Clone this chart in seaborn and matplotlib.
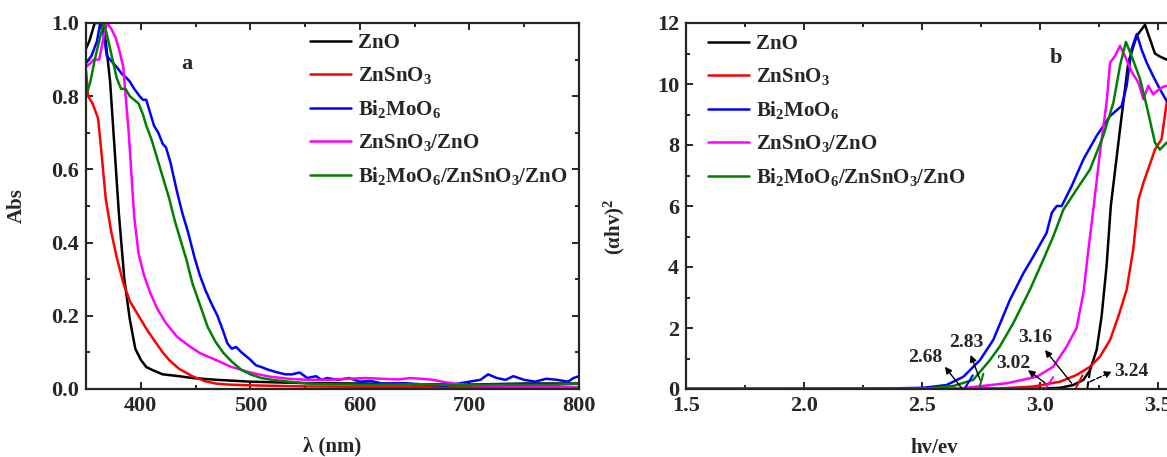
import numpy as np
import pandas as pd
import seaborn as sns
import matplotlib.pyplot as plt
from matplotlib.ticker import MultipleLocator

# ---- panel a: UV-vis absorbance ----
names = ['ZnO', 'ZnSnO$_3$', 'Bi$_2$MoO$_6$', 'ZnSnO$_3$/ZnO', 'Bi$_2$MoO$_6$/ZnSnO$_3$/ZnO']
colors = ['#000000', '#ff0000', '#0000ff', '#ff00ff', '#008000']

lam_zno = [350, 353, 356, 358, 365, 368, 372, 376, 380, 385, 390, 395, 400, 405, 412, 420,
           435, 447, 470, 500, 550, 600, 650, 700, 750, 800]
abs_zno = [0.93, 0.95, 0.98, 1.0, 1.0, 0.95, 0.84, 0.66, 0.48, 0.30, 0.19, 0.11, 0.08, 0.06,
           0.05, 0.04, 0.035, 0.03, 0.025, 0.02, 0.016, 0.015, 0.013, 0.012, 0.015, 0.015]

lam_zs = [350, 352, 356, 361, 364, 368, 373, 378, 384, 390, 398, 405, 412, 420, 426, 435,
          447, 458, 468, 480, 500, 550, 600, 650, 700, 750, 800]
abs_zs = [0.87, 0.80, 0.78, 0.74, 0.65, 0.52, 0.43, 0.36, 0.29, 0.24, 0.20, 0.165, 0.134,
          0.10, 0.079, 0.055, 0.035, 0.022, 0.015, 0.012, 0.01, 0.007, 0.006, 0.006, 0.005,
          0.005, 0.005]

lam_bi = [350, 355, 360, 363, 366, 369, 372, 375, 379, 383, 387, 390, 394, 399, 402, 405,
          408, 412, 416, 420, 423, 427, 433, 438, 443, 449, 454, 459, 465, 470, 475, 479,
          483, 487, 492, 496, 500, 505, 510, 517, 525, 532, 538, 545, 552, 560, 565, 570,
          580, 590, 600, 610, 620, 640, 660, 679, 690, 700, 710, 717, 725, 733, 740, 750,
          760, 770, 780, 790, 795, 800]
abs_bi = [0.89, 0.91, 0.95, 1.0, 0.97, 0.91, 0.90, 0.89, 0.876, 0.86, 0.85, 0.84, 0.82,
          0.80, 0.79, 0.79, 0.76, 0.72, 0.70, 0.67, 0.66, 0.62, 0.54, 0.48, 0.43, 0.36,
          0.31, 0.27, 0.23, 0.20, 0.16, 0.125, 0.11, 0.115, 0.10, 0.09, 0.08, 0.065, 0.06,
          0.052, 0.045, 0.04, 0.04, 0.045, 0.03, 0.035, 0.025, 0.03, 0.025, 0.03, 0.02,
          0.022, 0.015, 0.016, 0.012, 0.009, 0.015, 0.02, 0.025, 0.04, 0.03, 0.025, 0.035,
          0.025, 0.02, 0.028, 0.025, 0.02, 0.03, 0.035]

lam_zz = [350, 354, 357, 362, 366, 369, 373, 377, 380, 384, 389, 394, 398, 403, 409, 415,
          423, 433, 443, 454, 468, 482, 500, 517, 535, 553, 570, 590, 605, 620, 635, 646,
          660, 667, 675, 684, 700, 750, 800]
abs_zz = [0.88, 0.89, 0.90, 0.90, 0.96, 1.0, 0.985, 0.96, 0.93, 0.88, 0.70, 0.47, 0.37,
          0.31, 0.26, 0.22, 0.18, 0.143, 0.12, 0.098, 0.08, 0.061, 0.045, 0.034, 0.028,
          0.025, 0.025, 0.028, 0.03, 0.028, 0.026, 0.03, 0.027, 0.025, 0.02, 0.016, 0.01,
          0.007, 0.005]

lam_c = [350, 354, 358, 362, 366, 369, 372, 375, 378, 382, 386, 390, 394, 398, 402, 405,
         410, 415, 420, 426, 431, 436, 442, 447, 454, 461, 468, 475, 483, 492, 500, 510,
         520, 535, 553, 570, 600, 630, 660, 690, 720, 750, 780, 800]
abs_c = [0.80, 0.84, 0.90, 0.95, 1.0, 0.97, 0.93, 0.89, 0.85, 0.82, 0.82, 0.80, 0.79,
         0.78, 0.75, 0.72, 0.68, 0.63, 0.58, 0.52, 0.46, 0.41, 0.35, 0.29, 0.23, 0.17,
         0.13, 0.10, 0.075, 0.052, 0.04, 0.03, 0.025, 0.02, 0.015, 0.013, 0.012, 0.012,
         0.013, 0.01, 0.012, 0.012, 0.012, 0.015]

# ---- panel b: Tauc plot ----
e_zno = [1.5, 2.5, 3.0, 3.085, 3.141, 3.184, 3.212, 3.24, 3.261, 3.282, 3.30, 3.339,
         3.374, 3.41, 3.445, 3.487, 3.508, 3.537, 3.56]
t_zno = [0, 0, 0.01, 0.04, 0.13, 0.3, 0.62, 1.28, 2.38, 4.02, 6.0, 8.51, 10.7, 11.58,
         11.94, 11.0, 10.9, 10.8, 10.7]

e_zs = [1.5, 2.6, 2.83, 2.972, 3.085, 3.155, 3.212, 3.254, 3.297, 3.332, 3.367, 3.395,
        3.417, 3.438, 3.473, 3.487, 3.515, 3.537, 3.56]
t_zs = [0, 0, 0.02, 0.08, 0.24, 0.46, 0.73, 1.06, 1.61, 2.38, 3.25, 4.57, 6.2, 6.76,
        7.53, 7.85, 8.19, 9.39, 10.0]

e_bi = [1.5, 2.3, 2.506, 2.604, 2.675, 2.746, 2.802, 2.873, 2.93, 2.972, 3.028, 3.05,
        3.071, 3.092, 3.134, 3.184, 3.24, 3.297, 3.346, 3.367, 3.388, 3.41, 3.43, 3.452,
        3.48, 3.508, 3.537, 3.56]
t_bi = [0, 0.01, 0.04, 0.13, 0.40, 0.95, 1.61, 2.93, 3.8, 4.35, 5.12, 5.78, 6.0, 6.0,
        6.65, 7.53, 8.3, 8.95, 9.28, 9.94, 11.14, 11.64, 11.14, 10.7, 10.25, 9.83, 9.44,
        9.3]

e_zz = [1.5, 2.5, 2.675, 2.746, 2.859, 2.986, 3.056, 3.113, 3.155, 3.184, 3.205, 3.226,
        3.254, 3.282, 3.297, 3.318, 3.339, 3.36, 3.388, 3.417, 3.438, 3.459, 3.48, 3.5,
        3.52, 3.537, 3.56]
t_zz = [0, 0.005, 0.03, 0.09, 0.19, 0.40, 0.73, 1.39, 2.0, 3.15, 4.57, 5.88, 7.75, 9.39,
        10.7, 10.92, 11.25, 10.92, 10.4, 10.05, 9.5, 9.94, 9.66, 9.8, 9.9, 9.94, 9.9]

e_c = [1.5, 2.4, 2.534, 2.633, 2.717, 2.788, 2.83, 2.887, 2.957, 3.014, 3.056, 3.099,
       3.155, 3.212, 3.268, 3.311, 3.339, 3.364, 3.388, 3.424, 3.452, 3.487, 3.508, 3.537,
       3.56]
t_c = [0, 0.01, 0.03, 0.1, 0.3, 0.95, 1.4, 2.16, 3.25, 4.24, 5.0, 5.88, 6.54, 7.2, 8.3,
       9.39, 10.6, 11.38, 10.92, 10.16, 9.28, 8.08, 7.85, 8.08, 8.0]

# band gap labels: text position, arrow tail (on curve), arrow head (near text)
gap_text = ['2.68', '2.83', '3.02', '3.16', '3.24']
gap_txt_xy = [(2.513, 1.02), (2.686, 1.51), (2.886, 0.82), (2.979, 1.68), (3.389, 0.57)]
gap_tail = [(2.668, 0.03), (2.746, 0.30), (3.021, 0.2), (3.134, 0.19), (3.212, 0.24)]
gap_head = [(2.597, 0.73), (2.706, 1.12), (2.949, 0.62), (3.021, 1.28), (3.304, 0.57)]
# short extrapolated tangent segments
tan_x = [(2.68, 2.715), (2.745, 2.76), (3.021, 3.056), (3.15, 3.18), (3.2, 3.215)]
tan_y = [(0, 0.45), (0.1, 0.5), (0, 0.39), (0, 0.45), (0, 0.73)]
tan_c = ['#0000ff', '#008000', '#ff00ff', '#ff0000', '#000000']
tan_ls = ['-', '-', '-', '-', '--']


def long_df(xs, ys, xname, yname):
    parts = [pd.DataFrame({xname: x, yname: y, 'sample': n}) for x, y, n in zip(xs, ys, names)]
    return pd.concat(parts, ignore_index=True)


df_a = long_df([lam_zno, lam_zs, lam_bi, lam_zz, lam_c],
               [abs_zno, abs_zs, abs_bi, abs_zz, abs_c], 'lam', 'abs')
df_b = long_df([e_zno, e_zs, e_bi, e_zz, e_c],
               [t_zno, t_zs, t_bi, t_zz, t_c], 'ev', 'tauc')

sns.set_style('ticks')
plt.rcParams['font.family'] = ['Liberation Serif', 'DejaVu Serif']
plt.rcParams['font.weight'] = 'bold'
plt.rcParams['mathtext.fontset'] = 'custom'
plt.rcParams['mathtext.rm'] = 'Liberation Serif:bold'
plt.rcParams['mathtext.it'] = 'Liberation Serif:bold'
plt.rcParams['mathtext.bf'] = 'Liberation Serif:bold'

W, H = 1167, 457
fig = plt.figure(figsize=(W / 100, H / 100), dpi=100)
ax1 = fig.add_axes([86 / W, 1 - 389 / H, 493 / W, 366 / H])
ax2 = fig.add_axes([686 / W, 1 - 389 / H, 590 / W, 366 / H])

pal = dict(zip(names, colors))
sns.lineplot(data=df_a, x='lam', y='abs', hue='sample', hue_order=names, palette=pal,
             estimator=None, sort=False, lw=1.8, ax=ax1)
sns.lineplot(data=df_b, x='ev', y='tauc', hue='sample', hue_order=names, palette=pal,
             estimator=None, sort=False, lw=1.8, ax=ax2)

for ax in (ax1, ax2):
    for s in ax.spines.values():
        s.set_linewidth(1.6)
    ax.tick_params(which='both', direction='in', top=True, right=True, labelsize=16,
                   width=1.4)
    ax.tick_params(which='major', length=5, pad=5)
    ax.tick_params(which='minor', length=3)

ax1.set_xlim(350, 800)
ax1.set_ylim(0, 1.0)
ax1.xaxis.set_major_locator(MultipleLocator(100))
ax1.xaxis.set_minor_locator(MultipleLocator(50))
ax1.yaxis.set_major_locator(MultipleLocator(0.2))
ax1.yaxis.set_minor_locator(MultipleLocator(0.1))
ax1.set_yticklabels([f'{v:.1f}' for v in ax1.get_yticks()])
ax1.set_xlabel('λ (nm)', fontsize=15, fontweight='bold')
ax1.set_ylabel('Abs', fontsize=15, fontweight='bold')
ax1.xaxis.set_label_coords(0.5, -0.13)
ax1.yaxis.set_label_coords(-0.12, 0.5)

ax2.set_xlim(1.5, 4.0)
ax2.set_ylim(0, 12)
ax2.xaxis.set_major_locator(MultipleLocator(0.5))
ax2.xaxis.set_minor_locator(MultipleLocator(0.25))
ax2.yaxis.set_major_locator(MultipleLocator(2))
ax2.yaxis.set_minor_locator(MultipleLocator(1))
ax2.set_xlabel('hv/ev', fontsize=15, fontweight='bold')
ax2.set_ylabel('(αhv)$^2$', fontsize=15, fontweight='bold')
ax2.xaxis.set_label_coords(0.42, -0.134)
ax2.yaxis.set_label_coords(-0.1, 0.444)

for ax, x0, y0 in ((ax1, 310, 33), (ax2, 708, 34)):
    h, l = ax.get_legend_handles_labels()
    ax.legend(h, l, loc='upper left', bbox_to_anchor=(x0 / W, 1 - y0 / H),
              bbox_transform=fig.transFigure, frameon=False, fontsize=15,
              borderpad=0, borderaxespad=0, handlelength=1.95, handletextpad=0.35,
              labelspacing=0.58)

for t, txy, tail, head in zip(gap_text, gap_txt_xy, gap_tail, gap_head):
    ax2.annotate('', xy=head, xytext=tail,
                 arrowprops=dict(arrowstyle='-|>', color='black', lw=1.0,
                                 mutation_scale=10, shrinkA=0, shrinkB=0,
                                 linestyle='--' if t == '3.24' else '-'))
    ax2.text(txy[0], txy[1], t, ha='center', va='center', fontsize=14, fontweight='bold')

for tx, ty, c, ls in zip(tan_x, tan_y, tan_c, tan_ls):
    ax2.plot(tx, ty, color=c, lw=1.5, ls=ls)

fig.text(187 / W, 1 - 64 / H, 'a', ha='center', va='center', fontsize=16, fontweight='bold')
fig.text(1056 / W, 1 - 58 / H, 'b', ha='center', va='center', fontsize=16, fontweight='bold')

plt.savefig('out.png', dpi=100)
plt.close()
